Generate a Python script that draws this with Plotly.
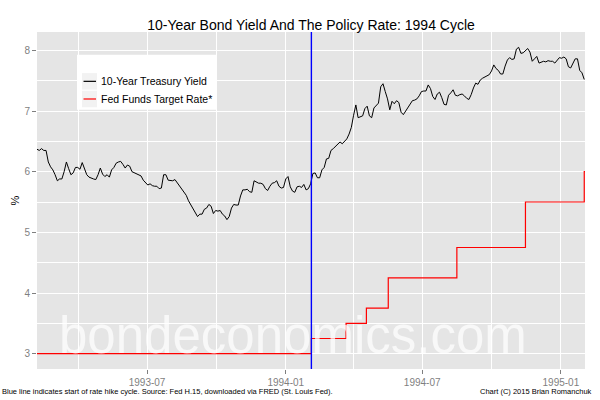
import pandas as pd
import plotly.graph_objects as go

# ---------------- data ----------------
# 10-year Treasury yield (%), sampled every 3 calendar days from 1993-02-05
YIELD_START = "1993-02-05"
YIELD_STEP = "3D"
yield_10y = [
    6.37, 6.35, 6.38, 6.35, 6.35, 6.16, 6.08, 6.03, 5.95, 5.85,
    5.88, 5.88, 6.00, 6.16, 6.05, 5.95, 5.98, 6.07, 6.07, 6.04,
    6.15, 6.05, 5.95, 5.91, 5.89, 5.88, 5.87, 5.95, 6.06, 5.96,
    5.92, 5.95, 5.91, 6.03, 6.07, 6.14, 6.16, 6.17, 6.12, 6.06,
    6.11, 6.09, 6.00, 5.98, 5.97, 5.95, 5.93, 5.86, 5.82, 5.78,
    5.80, 5.77, 5.76, 5.76, 5.72, 5.73, 5.95, 5.95, 5.86, 5.86,
    5.85, 5.87, 5.82, 5.75, 5.71, 5.66, 5.61, 5.52, 5.45, 5.38,
    5.33, 5.26, 5.30, 5.30, 5.38, 5.40, 5.46, 5.43, 5.31, 5.36,
    5.35, 5.36, 5.30, 5.27, 5.21, 5.26, 5.40, 5.46, 5.45, 5.45,
    5.60, 5.70, 5.70, 5.71, 5.67, 5.66, 5.85, 5.83, 5.81, 5.81,
    5.79, 5.72, 5.69, 5.76, 5.81, 5.82, 5.85, 5.76, 5.73, 5.74,
    5.88, 5.92, 5.75, 5.68, 5.66, 5.75, 5.76, 5.74, 5.79, 5.70,
    5.72, 5.80, 5.97, 5.98, 5.90, 5.90, 6.03, 6.07, 6.21, 6.22,
    6.35, 6.38, 6.42, 6.46, 6.49, 6.46, 6.51, 6.54, 6.62, 6.73,
    6.93, 7.10, 6.89, 6.90, 6.92, 7.04, 7.08, 6.92, 6.89, 7.05,
    7.10, 7.13, 7.40, 7.45, 7.32, 7.20, 7.02, 7.16, 7.12, 7.17,
    7.14, 6.98, 6.94, 7.00, 7.07, 7.11, 7.17, 7.18, 7.20, 7.25,
    7.32, 7.33, 7.33, 7.43, 7.37, 7.24, 7.19, 7.28, 7.31, 7.22,
    7.11, 7.10, 7.26, 7.30, 7.35, 7.26, 7.25, 7.27, 7.28, 7.25,
    7.21, 7.19, 7.27, 7.38, 7.46, 7.44, 7.51, 7.54, 7.56, 7.58,
    7.60, 7.66, 7.76, 7.70, 7.67, 7.61, 7.61, 7.74, 7.84, 7.88,
    7.85, 7.86, 8.02, 8.05, 7.95, 7.96, 8.00, 8.03, 7.97, 7.82,
    7.86, 7.90, 7.79, 7.81, 7.82, 7.81, 7.83, 7.82, 7.82, 7.79,
    7.83, 7.88, 7.87, 7.89, 7.86, 7.73, 7.71, 7.79, 7.86, 7.86,
    7.67, 7.63, 7.52,
]
yield_dates = pd.date_range(YIELD_START, periods=len(yield_10y), freq=YIELD_STEP)

# Fed funds target rate (%), step changes
ff_dates = ["1993-02-05", "1994-02-04", "1994-03-22", "1994-04-18", "1994-05-17",
            "1994-08-16", "1994-11-15", "1995-02-01", "1995-02-02"]
ff_rates = [3.00, 3.25, 3.50, 3.75, 4.25, 4.75, 5.50, 6.00, 6.00]

HIKE_DATE = "1994-02-04"
X_RANGE = ["1993-02-05", "1995-02-02"]
Y_RANGE = [2.7475, 8.3025]
x_tick_dates = ["1993-07-01", "1994-01-01", "1994-07-01", "1995-01-01"]
x_tick_labels = ["1993-07", "1994-01", "1994-07", "1995-01"]
x_minor_dates = ["1993-04-01", "1993-10-01", "1994-04-01", "1994-10-01"]
y_ticks = [3, 4, 5, 6, 7, 8]

TITLE = "10-Year Bond Yield And The Policy Rate: 1994 Cycle"
NAME_YIELD = "10-Year Treasury Yield"
NAME_FF = "Fed Funds Target Rate*"
CAPTION_LEFT = ("Blue line indicates start of rate hike cycle. Source: Fed H.15, "
                "downloaded via FRED (St. Louis Fed).")
CAPTION_RIGHT = "Chart (C) 2015 Brian Romanchuk"
WATERMARK = "bondeconomics.com"

# ---------------- figure ----------------
FONT = "Liberation Sans, Arial, sans-serif"
GREY = "#7F7F7F"
C_YIELD = "black"
C_FF = "#FF0000"

fig = go.Figure()
fig.add_trace(go.Scatter(x=yield_dates, y=yield_10y, mode="lines", name=NAME_YIELD,
                         line=dict(color=C_YIELD, width=1), showlegend=False))
fig.add_trace(go.Scatter(x=ff_dates, y=ff_rates, mode="lines", name=NAME_FF,
                         line=dict(color=C_FF, width=1.2, shape="hv"), showlegend=False))

# start of hike cycle
fig.add_shape(type="line", xref="x", yref="paper", x0=HIKE_DATE, x1=HIKE_DATE,
              y0=0, y1=1, line=dict(color="#0000FF", width=1.4), layer="above")

# legend (ggplot style box)
fig.add_shape(type="rect", xref="paper", yref="paper", x0=0.073, x1=0.3285,
              y0=0.7694, y1=0.9326, fillcolor="white", line=dict(width=0), layer="above")
legend_items = [(NAME_YIELD, C_YIELD, 0.8536), (NAME_FF, C_FF, 0.8012)]
for name, color, yc in legend_items:
    fig.add_shape(type="rect", xref="paper", yref="paper", x0=0.0821, x1=0.1095,
                  y0=yc - 0.0245, y1=yc + 0.0245, fillcolor="#F2F2F2",
                  line=dict(width=0), layer="above")
    fig.add_shape(type="line", xref="paper", yref="paper", x0=0.0849, x1=0.1077,
                  y0=yc, y1=yc, line=dict(color=color, width=1.2), layer="above")
    fig.add_annotation(text=name, xref="paper", yref="paper", x=0.1135, y=yc,
                       xanchor="left", yanchor="middle", showarrow=False,
                       font=dict(family=FONT, size=10.5, color="black"))

fig.add_annotation(text=WATERMARK, xref="paper", yref="paper", x=0.468, y=0.1,
                   xanchor="center", yanchor="middle", showarrow=False,
                   font=dict(family=FONT, size=51, color="rgba(255,255,255,0.72)"))
fig.add_annotation(text=CAPTION_LEFT, xref="paper", yref="paper", x=-0.0675, y=-0.067,
                   xanchor="left", yanchor="middle", showarrow=False,
                   font=dict(family=FONT, size=7.5, color="black"))
fig.add_annotation(text=CAPTION_RIGHT, xref="paper", yref="paper", x=1.017, y=-0.067,
                   xanchor="right", yanchor="middle", showarrow=False,
                   font=dict(family=FONT, size=7.5, color="black"))

fig.update_layout(
    width=600, height=400,
    margin=dict(l=37, r=15, t=32, b=31, autoexpand=False),
    paper_bgcolor="white", plot_bgcolor="#E5E5E5",
    font=dict(family=FONT, color="black"),
    title=dict(text=TITLE, x=0.5, xref="paper", y=0.937, yref="container",
               xanchor="center", yanchor="middle",
               font=dict(family=FONT, size=14, color="black")),
    showlegend=False,
)
fig.update_xaxes(
    type="date", range=X_RANGE, tickvals=x_tick_dates, ticktext=x_tick_labels,
    ticks="outside", ticklen=4, tickcolor=GREY, tickwidth=1,
    tickfont=dict(family=FONT, size=10, color=GREY),
    showgrid=True, gridcolor="white", gridwidth=1.1,
    minor=dict(tickvals=x_minor_dates, showgrid=True, gridcolor="white",
               gridwidth=0.6, ticks=""),
    zeroline=False, showline=False,
)
fig.update_yaxes(
    range=Y_RANGE, tickvals=y_ticks,
    ticks="outside", ticklen=4, tickcolor=GREY, tickwidth=1,
    tickfont=dict(family=FONT, size=10, color=GREY),
    showgrid=True, gridcolor="white", gridwidth=1.1,
    minor=dict(dtick=0.5, tick0=0, showgrid=True, gridcolor="white",
               gridwidth=0.6, ticks=""),
    zeroline=False, showline=False,
    title=dict(text="%", font=dict(family=FONT, size=11, color="black"), standoff=2),
)

fig.write_html("out.html", config={"displayModeBar": False},
               post_script="document.body.style.margin='0';document.body.style.overflow='hidden';")
